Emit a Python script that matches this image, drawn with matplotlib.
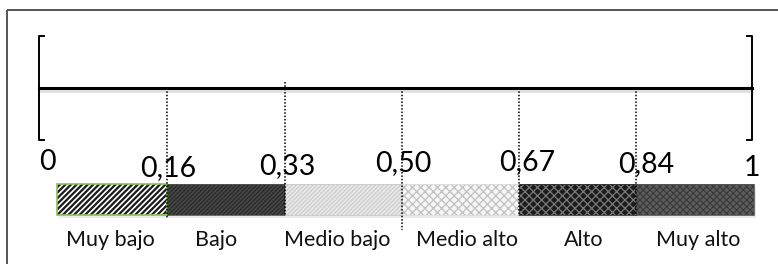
import matplotlib
matplotlib.use('Agg')
import matplotlib.pyplot as plt
from matplotlib.patches import Rectangle

# scale boundaries and labels
boundaries = [0, 0.16, 0.33, 0.50, 0.67, 0.84, 1]
tick_labels = ['0', '0,16', '0,33', '0,50', '0,67', '0,84', '1']
categories = ['Muy bajo', 'Bajo', 'Medio bajo', 'Medio alto', 'Alto', 'Muy alto']

# bar styling: (face, hatch colour, hatch, hatch width, edge)
bar_styles = [
    ('white', '#1a1a1a', '//////', 1.6, '#8cc05a'),
    ('#474747', '#262626', '////////', 0.8, '#555555'),
    ('#d2d2d2', '#f0f0f0', '////////', 0.8, '#c8c8c8'),
    ('#f6f6f6', '#c0c0c0', 'xxxx', 0.9, '#dddddd'),
    ('#1c1c1c', '#7a7a7a', 'xxxx', 0.9, '#333333'),
    ('#5c5c5c', '#3a3a3a', 'xxxxx', 0.8, '#555555'),
]

plt.rcParams['font.family'] = ['Lato', 'DejaVu Sans']

fig = plt.figure(figsize=(7.78, 2.64), dpi=100)
ax = fig.add_axes([0, 0, 1, 1])
seg_px = 117.3
x0_px = 50
ax.set_xlim(-x0_px / seg_px, (778 - x0_px) / seg_px)
ax.set_ylim(264, 0)
ax.axis('off')

idx = list(range(len(boundaries)))

# outer frame (cut off on right/bottom)
ax.add_patch(Rectangle((-43 / seg_px, 10), 10, 300, transform=ax.transData,
                       facecolor='none', edgecolor='#555555', lw=1.4))

# main line and brackets
line_l = -11 / seg_px
line_r = idx[-1] - 2 / seg_px
line_y = 88
ax.plot([line_l, line_r], [line_y + 2.5, line_y + 2.5], color='#cccccc', lw=2, alpha=0.6)
ax.plot([line_l, line_r], [line_y, line_y], color='black', lw=2.2)
brk = 5 / seg_px
ax.plot([line_l + brk, line_l, line_l, line_l + brk], [36, 36, 140, 140], color='black', lw=1.4)
ax.plot([line_r - brk, line_r, line_r, line_r - brk], [36, 36, 140, 140], color='black', lw=1.4)

# bars
bar_top, bar_h = 184, 31
for i, (face, hcol, hatch, hlw, edge) in enumerate(bar_styles):
    left = idx[i] + (7 / seg_px if i == 0 else 0)
    width = idx[i + 1] - left
    ax.add_patch(Rectangle((left + 2 / seg_px, bar_top + 3), width, bar_h,
                           facecolor='#d8d8d8', edgecolor='none', alpha=0.5, zorder=1))
    ax.add_patch(Rectangle((left, bar_top), width, bar_h, facecolor=face,
                           edgecolor='none', zorder=2))
    with plt.rc_context({'hatch.linewidth': hlw}):
        ax.add_patch(Rectangle((left, bar_top), width, bar_h, facecolor='none',
                               edgecolor=hcol, hatch=hatch, lw=0, zorder=3))
    ax.add_patch(Rectangle((left, bar_top), width, bar_h, facecolor='none',
                           edgecolor=edge, lw=1.2 if i == 0 else 0.6, zorder=4))

# category labels (slightly off-centre as in the source)
cat_dx = [2, -10, -6, 6, 6, 3]
for i, cat in enumerate(categories):
    ax.text((idx[i] + idx[i + 1]) / 2 + cat_dx[i] / seg_px, 240, cat, ha='center', va='center',
            fontsize=15.5, color='#111111')

# dotted dividers
dot_top = {2: 82}
dot_bot = {3: 230, 1: 218}
for i in idx[1:-1]:
    ax.plot([i, i], [dot_top.get(i, line_y), dot_bot.get(i, 216)], color='black',
            lw=1.1, ls=(0, (1, 1.2)), zorder=5)

# boundary labels
label_dx = [-3, 1, 3, 1, 8, 10, -3]
label_y = [162, 168, 166, 163, 162, 164, 168]
for i, lab in enumerate(tick_labels):
    x = line_l + 8 / seg_px if i == 0 else (line_r if i == len(idx) - 1 else idx[i] + label_dx[i] / seg_px)
    ax.text(x, label_y[i], lab, ha='center', va='center', fontsize=20.5, color='black')

fig.savefig('out.png', dpi=100, facecolor='white')
